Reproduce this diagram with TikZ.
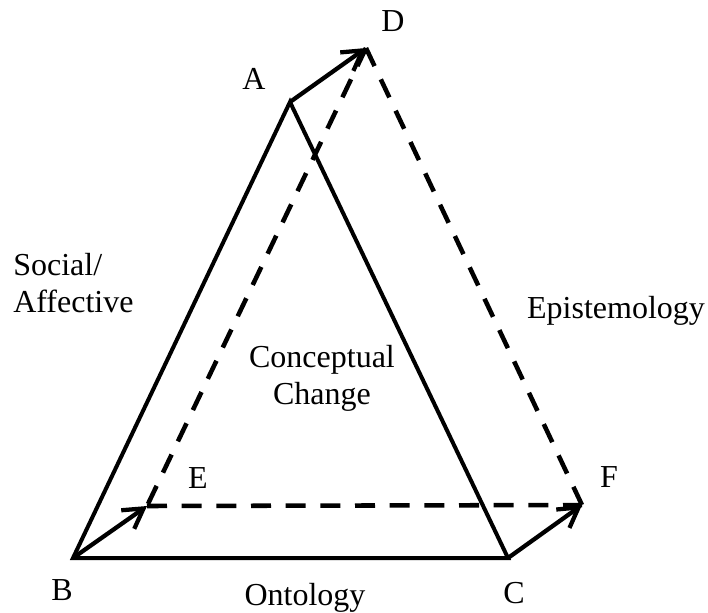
\documentclass[tikz,border=0pt]{standalone}
\usepackage{fontspec}
\setmainfont{Liberation Serif}
\usetikzlibrary{arrows.meta}
\begin{document}
\begin{tikzpicture}[x=0.75pt,y=-0.75pt,
  lbl/.style={inner sep=0pt,anchor=base,font=\fontsize{24}{27.75}\selectfont},
  triline/.style={line width=3pt,line join=miter},
  movearrow/.style={line width=3.2pt,-{Straight Barb[length=14.5pt,width=17pt,line width=3.2pt]}},
  dashline/.style={line width=3.4pt,dash pattern=on 15pt off 11pt}]
\useasboundingbox (0,0) rectangle (708,612);
\coordinate (A) at (290,102);
\coordinate (B) at (73,558);
\coordinate (C) at (508,558);
\coordinate (D) at (366,48);
\coordinate (E) at (147,506);
\coordinate (F) at (582,505);
% dashed triangle
\draw[dashline] (D) -- (E);
\draw[dashline] (D) -- (F);
\draw[dashline] (E) -- (F);
% solid triangle
\draw[triline] (A) -- (B) -- (C) -- cycle;
% displacement arrows
\draw[movearrow] (A) -- (D);
\draw[movearrow] (B) -- (E);
\draw[movearrow] (C) -- (F);
% labels
\node[lbl] (lA) at (254,89) {A};
\node[lbl] (lD) at (393,31) {D};
\node[lbl] (lB) at (62,600) {B};
\node[lbl] (lE) at (198,488) {E};
\node[lbl] (lC) at (514,603) {C};
\node[lbl] (lF) at (609,487) {F};
\node[lbl] (onto) at (305,605) {Ontology};
\node[lbl] (epis) at (616,318) {Epistemology};
\node[lbl,align=center] (cc) at (322,404) {Conceptual\\Change};
\node[lbl,align=left,anchor=base west] (soc) at (13,312) {Social/\\Affective};
\end{tikzpicture}
\end{document}
